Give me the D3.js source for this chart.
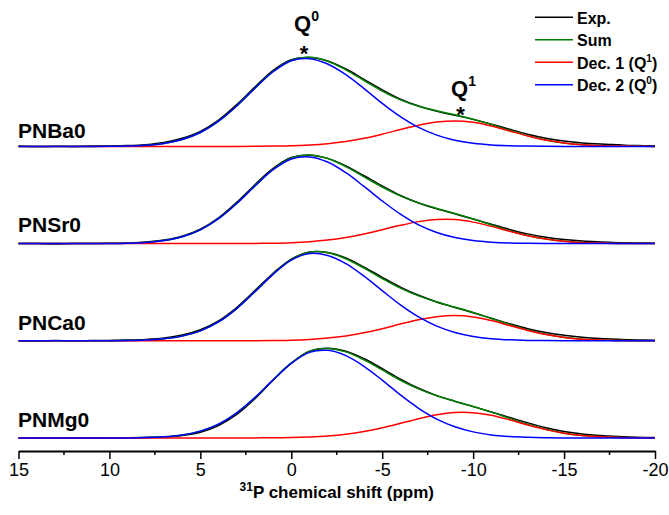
<!DOCTYPE html>
<html>
<head>
<meta charset="utf-8">
<script src="https://cdn.jsdelivr.net/npm/d3@7/dist/d3.min.js"></script>
<style>
body{margin:0;background:#fff;}
text{font-family:Arial,"Liberation Sans",sans-serif;}
</style>
</head>
<body>
<svg id="chart" width="669" height="515"></svg>
<script>
try{

/*========================================
	Data (intensity, arb. units)
========================================*/
var ppm = [15,14,13,12,11,10,9,8,7,6,5,4,3,2,1,0,-1,-2,-3,-4,-5,-6,-7,-8,-9,-10,-11,-12,-13,-14,-15,-16,-17,-18,-19,-20];

var samples = ["PNBa0","PNSr0","PNCa0","PNMg0"];
var offsets = [300,200,100,0];

var baExp  = [0.3,-0.2,0.2,0.0,0.3,0.4,0.8,1.8,4.0,8.3,15.4,27.0,43.0,61.0,78.3,89.3,91.4,87.8,79.6,69.0,58.2,48.6,41.5,36.2,32.0,27.8,22.9,17.6,12.6,8.5,5.6,3.6,2.4,1.6,0.8,0.6];
var baSum  = [0,0,0,0,0,0.1,0.4,1.2,3.1,7.1,14.3,25.9,41.6,59.9,77.1,88.7,91.6,87.6,78.8,67.8,56.9,47.9,41.3,36.6,32.5,28.0,22.5,16.6,11.1,6.6,3.5,1.7,0.7,0.3,0.1,0];
var baDec1 = [0,0,0,0,0,0,0,0,0,0,0,0,0,0.1,0.3,0.6,1.4,2.8,5.0,8.3,12.6,17.3,21.8,25.0,26.2,24.8,21.0,15.9,10.8,6.5,3.5,1.7,0.7,0.3,0.1,0];
var baDec2 = [0,0,0,0,0,0.1,0.4,1.2,3.1,7.1,14.3,25.9,41.6,59.8,76.8,88.1,90.2,84.8,73.8,59.5,44.3,30.6,19.5,11.6,6.3,3.2,1.5,0.7,0.3,0.1,0,0,0,0,0,0];

var srExp  = [0.2,0.0,-0.3,0.1,0.2,0.3,0.7,1.6,3.6,7.6,14.8,26.5,42.5,60.6,77.3,88.5,91.0,87.7,80.0,69.8,59.3,49.5,41.8,35.7,30.6,25.4,19.9,14.6,10.0,6.6,4.2,2.6,1.7,1.0,0.6,0.4];
var srSum  = [0,0,0,0,0,0.1,0.4,1.2,3.1,7.0,14.2,25.6,41.3,59.4,76.4,88.0,91.1,87.5,79.2,68.7,58.2,49.1,41.9,36.2,31.0,25.3,19.2,13.3,8.4,4.8,2.4,1.1,0.5,0.2,0.1,0];
var srDec1 = [0,0,0,0,0,0,0,0,0,0,0,0,0.1,0.2,0.4,0.9,1.9,3.6,6.3,9.9,14.3,18.8,22.6,24.7,24.7,22.1,17.7,12.7,8.1,4.7,2.4,1.1,0.5,0.2,0.1,0];
var srDec2 = [0,0,0,0,0,0.1,0.4,1.2,3.1,7.0,14.2,25.6,41.2,59.2,76.0,87.1,89.2,83.9,72.9,58.8,43.9,30.3,19.3,11.5,6.3,3.2,1.5,0.6,0.3,0.1,0,0,0,0,0,0];

var caExp  = [0.1,-0.2,0.2,0.0,0.2,0.4,0.7,1.4,2.9,5.9,11.4,20.6,34.3,51.6,69.5,84.1,91.3,90.9,85.2,75.8,65.3,55.2,46.8,40.0,34.3,28.9,23.2,17.6,12.5,8.5,5.6,3.6,2.3,1.5,0.9,0.6];
var caSum  = [0,0,0,0,0,0.1,0.2,0.7,2.0,4.8,10.2,19.4,33.1,50.5,68.7,83.6,91.2,90.6,84.4,74.8,64.1,54.2,46.2,39.9,34.6,29.1,23.0,16.8,11.1,6.7,3.6,1.7,0.7,0.3,0.1,0];
var caDec1 = [0,0,0,0,0,0,0,0,0,0,0,0,0,0.1,0.3,0.6,1.4,2.8,5.0,8.3,12.5,17.2,21.6,24.8,26.0,24.6,20.8,15.8,10.7,6.5,3.5,1.7,0.7,0.3,0.1,0];
var caDec2 = [0,0,0,0,0,0.1,0.2,0.7,2.0,4.8,10.2,19.4,33.1,50.4,68.4,83.0,89.8,87.8,79.4,66.5,51.6,37.0,24.6,15.1,8.6,4.5,2.2,1.0,0.4,0.2,0.1,0,0,0,0,0];

var mgExp  = [0.2,0.0,-0.2,0.1,0.0,0.2,0.3,0.6,1.1,2.6,6.0,12.8,24.2,40.5,59.4,77.0,89.3,92.4,89.2,81.5,71.4,60.6,51.2,43.6,37.7,32.3,26.9,21.2,15.6,10.6,6.8,4.2,2.6,1.6,0.9,0.6];
var mgSum  = [0,0,0,0,0,0,0.1,0.4,1.2,3.1,7.1,14.3,25.9,41.7,60.0,77.2,89.1,92.2,88.6,80.4,70.0,59.4,50.5,43.4,37.8,32.4,26.6,20.2,14.1,8.9,5.0,2.5,1.2,0.5,0.2,0.1];
var mgDec1 = [0,0,0,0,0,0,0,0,0,0,0,0,0,0.1,0.2,0.4,1.0,2.0,3.8,6.6,10.5,15.1,19.9,23.9,26.2,26.1,23.4,18.7,13.4,8.6,4.9,2.5,1.2,0.5,0.2,0.1];
var mgDec2 = [0,0,0,0,0,0,0.1,0.4,1.2,3.1,7.1,14.3,25.9,41.6,59.8,76.8,88.1,90.2,84.8,73.8,59.5,44.3,30.6,19.5,11.6,6.3,3.2,1.5,0.7,0.3,0.1,0,0,0,0,0];

var exps  = [baExp, srExp, caExp, mgExp];
var sums  = [baSum, srSum, caSum, mgSum];
var dec1s = [baDec1, srDec1, caDec1, mgDec1];
var dec2s = [baDec2, srDec2, caDec2, mgDec2];

var majorTicks = [15,10,5,0,-5,-10,-15,-20];
var minorTicks = [12.5,7.5,2.5,-2.5,-7.5,-12.5,-17.5];

/*========================================
	Layout
========================================*/
var svg = d3.select("#chart");
var colors = {exp:"#000000", sum:"#008000", dec1:"#ff0000", dec2:"#0000ff"};

var x = d3.scaleLinear().domain([15,-20]).range([18.5,655]);
var y = d3.scaleLinear().domain([0,400]).range([438,49.2]);
var axisY = 451;

// label y offsets above each baseline
var labelDy = [8.5,12,11,11];

/*========================================
	Curves
========================================*/
var line = function(off){
	return d3.line()
		.x(function(d,i){ return x(ppm[i]); })
		.y(function(d){ return y(off + d); })
		.curve(d3.curveCatmullRom.alpha(0.5));
};

samples.forEach(function(name,k){
	var off = offsets[k];
	var g = svg.append("g").attr("class","panel");
	[[exps[k],colors.exp],[sums[k],colors.sum],[dec1s[k],colors.dec1],[dec2s[k],colors.dec2]].forEach(function(s){
		g.append("path")
			.attr("d", line(off)(s[0]))
			.attr("fill","none")
			.attr("stroke",s[1])
			.attr("stroke-width",1.5)
			.attr("stroke-linejoin","round");
	});
	g.append("text")
		.attr("x",18)
		.attr("y",y(off) - labelDy[k])
		.attr("font-size",21)
		.attr("font-weight","bold")
		.text(name);
});

/*========================================
	Axis
========================================*/
var axis = d3.axisBottom(x).tickValues(majorTicks).tickSize(8).tickSizeOuter(0).tickPadding(4)
	.tickFormat(function(d){ return d; });
var ax = svg.append("g").attr("transform","translate(0,"+axisY+")").call(axis);
ax.select(".domain").attr("stroke-width",2);
ax.selectAll(".tick line").attr("stroke-width",1.5);
ax.selectAll(".tick text").attr("font-size",18).attr("font-family","Arial, 'Liberation Sans', sans-serif").attr("fill","#000");

ax.selectAll(".minor").data(minorTicks).enter().append("line")
	.attr("class","minor")
	.attr("x1",function(d){ return x(d); }).attr("x2",function(d){ return x(d); })
	.attr("y1",0).attr("y2",4)
	.attr("stroke","#000").attr("stroke-width",1.5);

var title = svg.append("text")
	.attr("x",(x(15)+x(-20))/2)
	.attr("y",498)
	.attr("text-anchor","middle")
	.attr("font-size",17)
	.attr("font-weight","bold");
title.append("tspan").attr("font-size",12).attr("dy",-7).text("31");
title.append("tspan").attr("dy",7).text("P chemical shift (ppm)");

/*========================================
	Peak markers
========================================*/
var peaks = [{label:"Q", sup:"0", ppm:-0.7, tx:294, ty:31, ay:61},
             {label:"Q", sup:"1", ppm:-9.3, tx:451, ty:96, ay:122}];
peaks.forEach(function(p){
	var t = svg.append("text").attr("x",p.tx).attr("y",p.ty).attr("font-size",22).attr("font-weight","bold");
	t.append("tspan").text(p.label);
	t.append("tspan").attr("font-size",14).attr("dy",-10).text(p.sup);
	svg.append("text").attr("x",x(p.ppm)).attr("y",p.ay)
		.attr("text-anchor","middle").attr("font-size",22).attr("font-weight","bold").text("*");
});

/*========================================
	Legend
========================================*/
var legend = [
	{name:"Exp.", color:colors.exp, sup:null},
	{name:"Sum", color:colors.sum, sup:null},
	{name:"Dec. 1 (Q", color:colors.dec1, sup:"1"},
	{name:"Dec. 2 (Q", color:colors.dec2, sup:"0"}
];
var lg = svg.append("g").attr("class","legend");
legend.forEach(function(l,i){
	var ly = 17.3 + i*22.5;
	lg.append("line").attr("x1",535).attr("x2",573).attr("y1",ly).attr("y2",ly)
		.attr("stroke",l.color).attr("stroke-width",1.5);
	var t = lg.append("text").attr("x",577).attr("y",ly+6.5).attr("font-size",16).attr("font-weight","bold");
	t.append("tspan").text(l.name);
	if(l.sup){
		t.append("tspan").attr("font-size",10).attr("dy",-7).text(l.sup);
		t.append("tspan").attr("dy",7).text(")");
	}
});

} catch (e) {
	console.log(e);
}
</script>
</body>
</html>
